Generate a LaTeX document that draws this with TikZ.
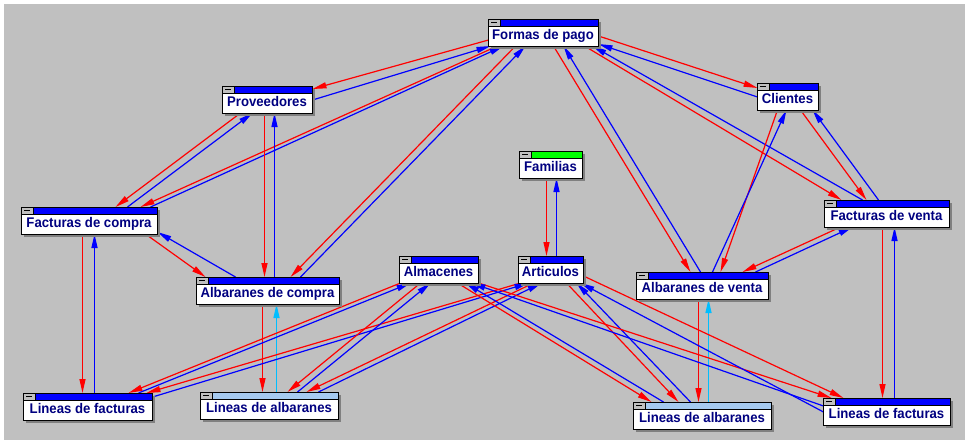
\documentclass[tikz,border=0pt]{standalone}
\usepackage{fontspec}
\newfontfamily\tabfont[FakeStretch=0.94]{Liberation Sans}
\usetikzlibrary{arrows.meta,calc,shadows}

\definecolor{bggray}{RGB}{192,192,192}
\definecolor{shadowgray}{RGB}{128,128,128}
\definecolor{btngray}{RGB}{192,192,192}
\definecolor{navy}{RGB}{0,0,128}
\definecolor{barblue}{RGB}{0,0,255}
\definecolor{barlight}{RGB}{166,202,240}
\definecolor{bargreen}{RGB}{0,255,0}
\definecolor{linkcyan}{RGB}{0,190,255}

\pgfdeclarelayer{canvas}
\pgfdeclarelayer{links}
\pgfsetlayers{canvas,links,main}

\begin{document}
\begin{tikzpicture}[x=1pt,y=-1pt,
  win/.style 2 args={draw=black, line width=1pt, fill=white, anchor=north west,
    inner sep=0pt, outer sep=0pt, minimum width=#1, text height=20.5pt, text depth=6.5pt,
    font={\tabfont\bfseries\fontsize{14pt}{16pt}\selectfont}, text=navy,
    drop shadow={shadow xshift=3pt, shadow yshift=-3pt, fill=shadowgray, opacity=1},
    path picture={
      \fill[btngray] (path picture bounding box.north west)
        rectangle ([xshift=12pt,yshift=-7pt]path picture bounding box.north west);
      \fill[#2] ([xshift=12pt]path picture bounding box.north west)
        rectangle ([yshift=-7pt]path picture bounding box.north east);
      \draw[line width=1pt] ([yshift=-7pt]path picture bounding box.north west)
        -- ([yshift=-7pt]path picture bounding box.north east);
      \draw[line width=1pt] ([xshift=12pt]path picture bounding box.north west)
        -- ([xshift=12pt,yshift=-7pt]path picture bounding box.north west);
      \draw[line width=1.3pt] ([xshift=3pt,yshift=-3.5pt]path picture bounding box.north west)
        -- ([xshift=9pt,yshift=-3.5pt]path picture bounding box.north west);
    }},
  link/.style={draw=#1, line width=1.2pt, -{Triangle[length=14pt,width=6pt,fill=#1]}}]

\useasboundingbox (0,0) rectangle (965,445);
\begin{pgfonlayer}{canvas}
  \fill[white] (0,0) rectangle (965,445);
  \fill[bggray] (4,4) rectangle (965,440);
\end{pgfonlayer}

% Tables
\node[win={110pt}{barblue}]  (FP)   at (488,19)  {Formas de pago};
\node[win={90pt}{barblue}]   (Prov) at (222,86)  {Proveedores};
\node[win={136pt}{barblue}]  (FC)   at (21,207)  {Facturas de compra};
\node[win={143pt}{barblue}]  (AC)   at (196,277) {Albaranes de compra};
\node[win={79pt}{barblue}]   (Alm)  at (399,256) {Almacenes};
\node[win={65pt}{barblue}]   (Art)  at (518,256) {Articulos};
\node[win={63pt}{bargreen}]  (Fam)  at (519,151) {Familias};
\node[win={132pt}{barblue}]  (AV)   at (636,272) {Albaranes de venta};
\node[win={61pt}{barblue}]   (Cli)  at (757,83)  {Clientes};
\node[win={125pt}{barblue}]  (FV)   at (824,200) {Facturas de venta};
\node[win={129pt}{barblue}]  (LFl)  at (23,393)  {Lineas de facturas};
\node[win={138pt}{barlight}] (LAl)  at (200,392) {Lineas de albaranes};
\node[win={138pt}{barlight}] (LAr)  at (633,402) {Lineas de albaranes};
\node[win={127pt}{barblue}]  (LFr)  at (823,398) {Lineas de facturas};

% Relations (offsets from the north west corner of each table)
\begin{pgfonlayer}{links}
\foreach \col/\a/\ax/\ay/\b/\bx/\by in {
    red/FP/0/21/Prov/90/3,      blue/Prov/90/14/FP/2/27,
    red/FP/9/27/FC/119/0,       blue/FC/129/0/FP/15/27,
    red/Prov/18/27/FC/94/0,     blue/FC/106/0/Prov/30/27,
    red/FP/27/27/AC/94/0,       blue/AC/104/0/FP/37/27,
    red/Prov/42/27/AC/68/0,     blue/AC/78/0/Prov/52/27,
    red/FC/124/27/AC/9/0,       blue/AC/39/0/FC/136/25,
    red/FC/61/27/LFl/59/0,      blue/LFl/71/0/FC/73/27,
    red/AC/66/27/LAl/62/0,      linkcyan/LAl/76/0/AC/80/27,
    red/Fam/27/27/Art/28/0,     blue/Art/38/0/Fam/37/27,
    red/FP/65/27/AV/54/0,       blue/AV/64/0/FP/75/27,
    red/FP/110/17/Cli/0/5,      blue/Cli/0/14/FP/110/25,
    red/FP/96/27/FV/17/0,       blue/FV/38/0/FP/104/27,
    red/Cli/20/27/AV/84/0,      blue/AV/76/0/Cli/29/27,
    red/Cli/43/27/FV/42/0,      blue/FV/54/0/Cli/55/27,
    red/FV/16/27/AV/106/0,      blue/AV/119/0/FV/28/27,
    red/FV/58/27/LFr/59/0,      blue/LFr/71/0/FV/70/27,
    red/AV/62/27/LAr/65/0,      linkcyan/LAr/75/0/AV/72/27,
    red/Alm/1/27/LFl/105/0,     blue/LFl/115/0/Alm/11/27,
    red/Art/2/27/LFl/123/0,     blue/LFl/129/4/Art/10/27,
    red/Alm/21/27/LAl/87/0,     blue/LAl/97/0/Alm/31/27,
    red/Art/15/27/LAl/106/0,    blue/LAl/118/0/Art/23/27,
    red/Alm/58/27/LAr/18/0,     blue/LAr/30/0/Alm/66/27,
    red/Art/48/27/LAr/45/0,     blue/LAr/57/0/Art/58/27,
    red/Alm/79/27/LFr/8/0,      blue/LFr/0/8/Alm/72/27,
    red/Art/65/20/LFr/20/0,     blue/LFr/0/14/Art/62/27}
  \draw[link=\col] ($(\a.north west)+(\ax+0.5,\ay)$) -- ($(\b.north west)+(\bx+0.5,\by)$);
\end{pgfonlayer}
\end{tikzpicture}
\end{document}
